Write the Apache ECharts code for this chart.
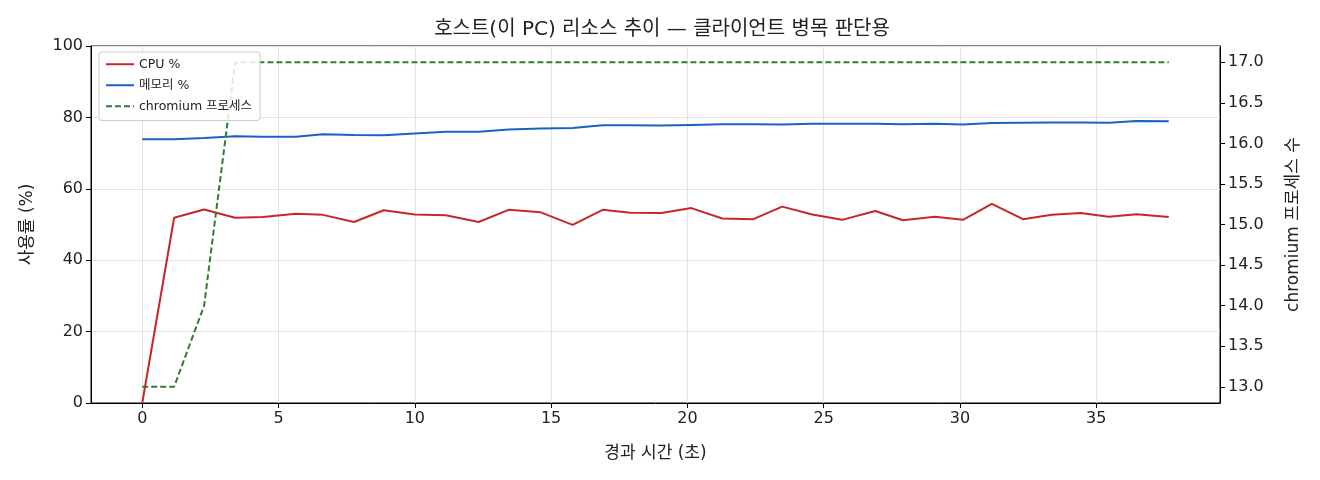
<!DOCTYPE html>
<html><head><meta charset="utf-8">
<script src="https://cdn.jsdelivr.net/npm/echarts@6/dist/echarts.min.js"></script>
<style>html,body{margin:0;padding:0;background:#fff}#c{width:1320px;height:480px}</style>
</head><body><div id="c"></div>
<script>
const times = [0, 1.17, 2.27, 3.41, 4.43, 5.64, 6.63, 7.77, 8.86, 10.0, 11.14, 12.34, 13.44, 14.62, 15.79, 16.89, 17.91, 19.05, 20.15, 21.28, 22.42, 23.48, 24.58, 25.68, 26.89, 27.91, 29.08, 30.11, 31.17, 32.31, 33.37, 34.43, 35.46, 36.48, 37.66];
const cpu = [0, 51.9, 54.2, 51.9, 52.1, 53.0, 52.7, 50.7, 54.0, 52.8, 52.6, 50.7, 54.1, 53.4, 49.9, 54.1, 53.3, 53.2, 54.6, 51.7, 51.5, 55.0, 52.8, 51.3, 53.8, 51.2, 52.2, 51.3, 55.8, 51.5, 52.7, 53.2, 52.2, 52.9, 52.1];
const mem = [73.9, 73.9, 74.2, 74.7, 74.6, 74.6, 75.3, 75.1, 75.0, 75.5, 76.0, 76.0, 76.6, 76.9, 77.0, 77.8, 77.8, 77.7, 77.9, 78.1, 78.1, 78.0, 78.2, 78.2, 78.2, 78.1, 78.2, 78.0, 78.4, 78.5, 78.6, 78.6, 78.5, 79.0, 78.9];
const chromium = [13, 13, 14, 17, 17, 17, 17, 17, 17, 17, 17, 17, 17, 17, 17, 17, 17, 17, 17, 17, 17, 17, 17, 17, 17, 17, 17, 17, 17, 17, 17, 17, 17, 17, 17];
const xTicks = [0, 5, 10, 15, 20, 25, 30, 35];
const rightTicks = [13, 13.5, 14, 14.5, 15, 15.5, 16, 16.5, 17];

const FONT = '"DejaVu Sans", "Noto Sans CJK KR", sans-serif';
const pair = arr => times.map((t, i) => [t, arr[i]]);
const chart = echarts.init(document.getElementById('c'), null, {renderer: 'canvas'});
const axisLine = {show: true, onZero: false, lineStyle: {color: '#000', width: 1}};
const axisTick = {show: true, inside: false, length: 5, lineStyle: {color: '#000'}};
const labelStyle = {color: '#222', fontSize: 16, fontFamily: FONT};
const nameStyle = {fontSize: 17, color: '#222', fontFamily: FONT};
chart.setOption({
  animation: false,
  backgroundColor: '#fff',
  textStyle: {fontFamily: FONT},
  title: {
    text: '호스트(이 PC) 리소스 추이 — 클라이언트 병목 판단용',
    left: 657, top: 15, textAlign: 'center',
    textStyle: {fontSize: 20, fontWeight: 'normal', color: '#222', fontFamily: FONT}
  },
  grid: {left: 91, right: 100, top: 46, bottom: 77, show: true, borderColor: '#000', borderWidth: 1, backgroundColor: 'transparent'},
  legend: {
    left: 99, top: 52, orient: 'vertical', itemWidth: 28, itemHeight: 14, itemGap: 8.5,
    backgroundColor: 'rgba(255,255,255,0.85)', borderColor: '#ccc', borderWidth: 1, borderRadius: 3,
    padding: [6, 8, 8, 6],
    itemStyle: {opacity: 0},
    textStyle: {fontSize: 12.5, color: '#222', fontFamily: FONT},
    data: ['CPU %', '메모리 %', 'chromium 프로세스']
  },
  xAxis: {
    type: 'value', min: -1.88, max: 39.54,
    name: '경과 시간 (초)', nameLocation: 'middle', nameGap: 42,
    nameTextStyle: nameStyle,
    axisLine, axisTick: Object.assign({customValues: xTicks}, axisTick),
    axisLabel: Object.assign({customValues: xTicks, margin: 8}, labelStyle),
    splitLine: {show: false}
  },
  yAxis: [{
    type: 'value', min: 0, max: 100, interval: 20, position: 'left',
    name: '사용률 (%)', nameLocation: 'middle', nameGap: 55, nameRotate: 90,
    nameTextStyle: nameStyle,
    axisLine, axisTick, axisLabel: Object.assign({margin: 8}, labelStyle),
    splitLine: {show: true, lineStyle: {color: '#e3e3e3', width: 1}}
  }, {
    type: 'value', min: 12.8, max: 17.2, position: 'right',
    name: 'chromium 프로세스 수', nameLocation: 'middle', nameGap: 65, nameRotate: 90,
    nameTextStyle: nameStyle,
    axisLine, axisTick: Object.assign({customValues: rightTicks}, axisTick),
    axisLabel: Object.assign({customValues: rightTicks, margin: 8, formatter: v => v.toFixed(1)}, labelStyle),
    splitLine: {show: false}
  }],
  series: [{
    name: 'CPU %', type: 'line', yAxisIndex: 0, data: pair(cpu), symbol: 'none',
    lineStyle: {color: '#c62828', width: 2}, itemStyle: {color: '#c62828'}, z: 3,
    markLine: {
      silent: true, symbol: 'none', label: {show: false}, animation: false,
      lineStyle: {color: '#e3e3e3', width: 1, type: 'solid'}, z: 1,
      data: xTicks.map(v => ({xAxis: v}))
    }
  }, {
    name: '메모리 %', type: 'line', yAxisIndex: 0, data: pair(mem), symbol: 'none',
    lineStyle: {color: '#1565c0', width: 2}, itemStyle: {color: '#1565c0'}, z: 3
  }, {
    name: 'chromium 프로세스', type: 'line', yAxisIndex: 1, data: pair(chromium), symbol: 'none',
    lineStyle: {color: '#2e7d32', width: 2, type: [6, 3]}, itemStyle: {color: '#2e7d32'}, z: 3
  }]
});
</script></body></html>
